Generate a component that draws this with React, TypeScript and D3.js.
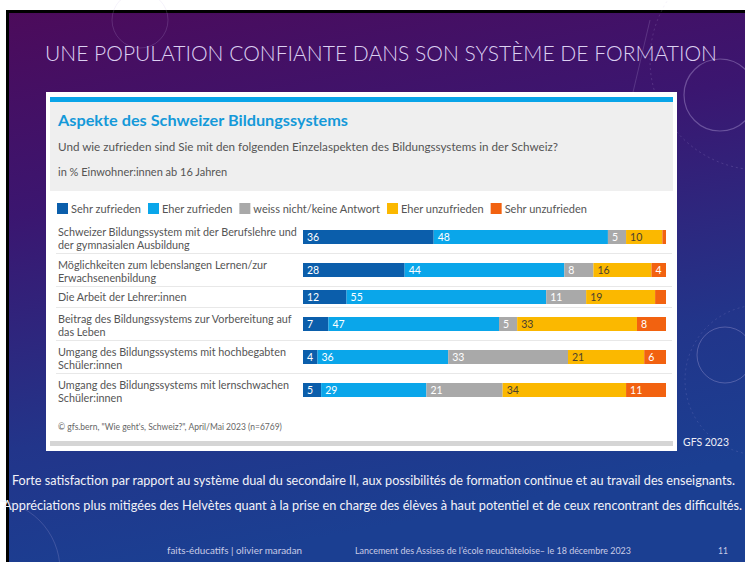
import { useEffect, useRef } from "react";
import * as d3 from "d3";

const categories: string[][] = [
  ["Schweizer Bildungssystem mit der Berufslehre und", "der gymnasialen Ausbildung"],
  ["Möglichkeiten zum lebenslangen Lernen/zur", "Erwachsenenbildung"],
  ["Die Arbeit der Lehrer:innen"],
  ["Beitrag des Bildungssystems zur Vorbereitung auf", "das Leben"],
  ["Umgang des Bildungssystems mit hochbegabten", "Schüler:innen"],
  ["Umgang des Bildungssystems mit lernschwachen", "Schüler:innen"],
];
const seriesNames = [
  "Sehr zufrieden",
  "Eher zufrieden",
  "weiss nicht/keine Antwort",
  "Eher unzufrieden",
  "Sehr unzufrieden",
];
const sehrZufrieden = [36, 28, 12, 7, 4, 5];
const eherZufrieden = [48, 44, 55, 47, 36, 29];
const weissNicht = [5, 8, 11, 5, 33, 21];
const eherUnzufrieden = [10, 16, 19, 33, 21, 34];
const sehrUnzufrieden = [1, 4, 3, 8, 6, 11];

const colors = ["#0b5eab", "#0aa6ea", "#a9a9a9", "#fbb800", "#f26210"];
const labelColors = ["#fff", "#fff", "#fff", "#4a4030", "#fff"];

const W = 745;
const H = 562;
const CHART_FONT = "Lato, 'Open Sans', sans-serif";
const SLIDE_FONT = "Lato, 'Open Sans', sans-serif";

export default function App() {
  const svgRef = useRef<SVGSVGElement>(null);

  useEffect(() => {
    document.body.style.margin = "0";
    if (!svgRef.current) return;
    const svg = d3.select(svgRef.current);
    svg.selectAll("*").remove();

    // background slide
    const defs = svg.append("defs");
    const grad = defs.append("linearGradient")
      .attr("id", "bg-grad")
      .attr("x1", 0).attr("y1", 0).attr("x2", 0.25).attr("y2", 1);
    grad.append("stop").attr("offset", 0).attr("stop-color", "#4c0b5b");
    grad.append("stop").attr("offset", 0.35).attr("stop-color", "#3b1670");
    grad.append("stop").attr("offset", 0.75).attr("stop-color", "#22358a");
    grad.append("stop").attr("offset", 1).attr("stop-color", "#1b3f92");

    svg.append("rect").attr("width", W).attr("height", H).attr("fill", "#fff");
    svg.append("rect").attr("x", 6).attr("y", 10).attr("width", W - 6).attr("height", H - 10).attr("fill", "#000");
    svg.append("rect").attr("x", 9).attr("y", 13).attr("width", W - 9).attr("height", H - 13).attr("fill", "url(#bg-grad)");

    // faint decorations
    const deco = svg.append("g").attr("fill", "none").attr("stroke", "#c8b8e8");
    deco.append("circle").attr("cx", 720).attr("cy", 95).attr("r", 36).attr("stroke-opacity", 0.35).attr("stroke-width", 1.2);
    deco.append("circle").attr("cx", 760).attr("cy", 60).attr("r", 110).attr("stroke-opacity", 0.18).attr("stroke-dasharray", "2 3");
    deco.append("circle").attr("cx", 140).attr("cy", 20).attr("r", 28).attr("stroke-opacity", 0.18);
    deco.append("circle").attr("cx", 725).attr("cy", 355).attr("r", 28).attr("stroke-opacity", 0.3);
    deco.append("circle").attr("cx", 760).attr("cy", 380).attr("r", 75).attr("stroke-opacity", 0.15).attr("stroke-dasharray", "2 3");
    deco.append("circle").attr("cx", -10).attr("cy", 570).attr("r", 70).attr("stroke-opacity", 0.2);
    deco.append("path").attr("d", "M 650 20 L 610 190").attr("stroke-opacity", 0.2);

    // slide title
    svg.append("text")
      .attr("x", 45).attr("y", 61)
      .attr("font-family", SLIDE_FONT).attr("font-weight", 300)
      .attr("font-size", 21).attr("fill", "#dcd0f2")
      .attr("textLength", 672).attr("lengthAdjust", "spacingAndGlyphs")
      .text("UNE POPULATION CONFIANTE DANS SON SYSTÈME DE FORMATION");

    // chart panel
    svg.append("rect").attr("x", 46).attr("y", 92).attr("width", 631).attr("height", 359).attr("fill", "#fff");
    svg.append("rect").attr("x", 50).attr("y", 102).attr("width", 623).attr("height", 89).attr("fill", "#efefef");
    svg.append("rect").attr("x", 50).attr("y", 97).attr("width", 623).attr("height", 5).attr("fill", "#09a4e8");
    svg.append("rect").attr("x", 50).attr("y", 441).attr("width", 623).attr("height", 5).attr("fill", "#d5d5d5");

    const chart = svg.append("g").attr("font-family", CHART_FONT);

    chart.append("text")
      .attr("x", 58).attr("y", 126)
      .attr("font-size", 16).attr("font-weight", 700).attr("fill", "#1499d9")
      .attr("textLength", 290).attr("lengthAdjust", "spacingAndGlyphs")
      .text("Aspekte des Schweizer Bildungssystems");
    chart.append("text")
      .attr("x", 58).attr("y", 151)
      .attr("font-size", 11).attr("fill", "#555")
      .attr("textLength", 500).attr("lengthAdjust", "spacingAndGlyphs")
      .text("Und wie zufrieden sind Sie mit den folgenden Einzelaspekten des Bildungssystems in der Schweiz?");
    chart.append("text")
      .attr("x", 58).attr("y", 176)
      .attr("font-size", 11).attr("fill", "#555")
      .text("in % Einwohner:innen ab 16 Jahren");

    // legend
    const legend = chart.append("g");
    let lx = 57;
    seriesNames.forEach((name, i) => {
      legend.append("rect").attr("x", lx).attr("y", 203).attr("width", 11).attr("height", 11).attr("fill", colors[i]);
      const t = legend.append("text")
        .attr("x", lx + 14).attr("y", 212.5)
        .attr("font-size", 11).attr("fill", "#555")
        .text(name);
      const w = (t.node() as SVGTextElement).getComputedTextLength();
      lx += 14 + w + 7;
    });

    // rows
    const rowH = categories.map((c) => (c.length === 2 ? 33 : 21));
    const rowTops = rowH.map((_, i) => 220.5 + d3.sum(rowH.slice(0, i)));
    const rowCenter = (i: number) => rowTops[i] + rowH[i] / 2;

    const x = d3.scaleLinear().domain([0, 100]).range([303, 666]);
    const barH = 14;

    const table = categories.map((_, i) => ({
      idx: i,
      [seriesNames[0]]: sehrZufrieden[i],
      [seriesNames[1]]: eherZufrieden[i],
      [seriesNames[2]]: weissNicht[i],
      [seriesNames[3]]: eherUnzufrieden[i],
      [seriesNames[4]]: sehrUnzufrieden[i],
    }));
    const stacked = d3.stack<any>().keys(seriesNames)(table);

    // separators
    chart.selectAll(".sep")
      .data(rowTops.slice(1))
      .enter().append("line")
      .attr("x1", 56).attr("x2", 672)
      .attr("y1", (d) => d).attr("y2", (d) => d)
      .attr("stroke", "#e8e8e8").attr("stroke-width", 1);

    // category labels
    categories.forEach((lines, i) => {
      const c = rowCenter(i);
      const t = chart.append("text").attr("font-size", 10.8).attr("fill", "#555");
      lines.forEach((ln, j) => {
        const yy = lines.length === 2 ? c - 1.5 + j * 13 : c + 3.5;
        t.append("tspan").attr("x", 58).attr("y", yy).text(ln);
      });
    });

    // bars
    stacked.forEach((layer, si) => {
      const g = chart.append("g");
      g.selectAll("rect")
        .data(layer)
        .enter().append("rect")
        .attr("x", (d) => x(d[0]))
        .attr("width", (d) => x(d[1]) - x(d[0]))
        .attr("y", (_, i) => rowCenter(i) - barH / 2)
        .attr("height", barH)
        .attr("fill", colors[si]);
      g.selectAll("text")
        .data(layer)
        .enter().append("text")
        .filter((d) => d[1] - d[0] >= 4)
        .attr("x", (d) => x(d[0]) + 4)
        .attr("y", (d: any) => rowCenter(d.data.idx) + 3.8)
        .attr("font-size", 10.5)
        .attr("fill", labelColors[si])
        .text((d) => String(d[1] - d[0]));
    });

    // footnote
    chart.append("text")
      .attr("x", 58).attr("y", 430)
      .attr("font-size", 8.5).attr("fill", "#666")
      .text("© gfs.bern, \"Wie geht's, Schweiz?\", April/Mai 2023 (n=6769)");

    // slide texts
    svg.append("text")
      .attr("x", 683).attr("y", 446)
      .attr("font-family", SLIDE_FONT).attr("font-size", 12).attr("fill", "#eeeef6")
      .attr("textLength", 46).attr("lengthAdjust", "spacingAndGlyphs")
      .text("GFS 2023");
    svg.append("text")
      .attr("x", 12).attr("y", 485)
      .attr("font-family", SLIDE_FONT).attr("font-size", 12.5).attr("fill", "#f2f2f8")
      .attr("textLength", 723).attr("lengthAdjust", "spacingAndGlyphs")
      .text("Forte satisfaction par rapport au système dual du secondaire II, aux possibilités de formation continue et au travail des enseignants.");
    svg.append("text")
      .attr("x", 3).attr("y", 510)
      .attr("font-family", SLIDE_FONT).attr("font-size", 12.5).attr("fill", "#f2f2f8")
      .attr("textLength", 739).attr("lengthAdjust", "spacingAndGlyphs")
      .text("Appréciations plus mitigées  des Helvètes quant à la prise en charge des élèves à haut potentiel et de ceux rencontrant des difficultés.");
    svg.append("text")
      .attr("x", 167).attr("y", 554)
      .attr("font-family", SLIDE_FONT).attr("font-size", 8.5).attr("fill", "#c9cbe6")
      .attr("textLength", 135).attr("lengthAdjust", "spacingAndGlyphs")
      .text("faits-éducatifs | olivier maradan");
    svg.append("text")
      .attr("x", 355).attr("y", 554)
      .attr("font-family", SLIDE_FONT).attr("font-size", 8.5).attr("fill", "#c9cbe6")
      .attr("textLength", 276).attr("lengthAdjust", "spacingAndGlyphs")
      .text("Lancement des Assises de l’école neuchâteloise– le 18 décembre 2023");
    svg.append("text")
      .attr("x", 718).attr("y", 554)
      .attr("font-family", SLIDE_FONT).attr("font-size", 8.5).attr("fill", "#c9cbe6")
      .text("11");
  }, []);

  return <svg ref={svgRef} width={W} height={H} style={{ display: "block" }} />;
}
